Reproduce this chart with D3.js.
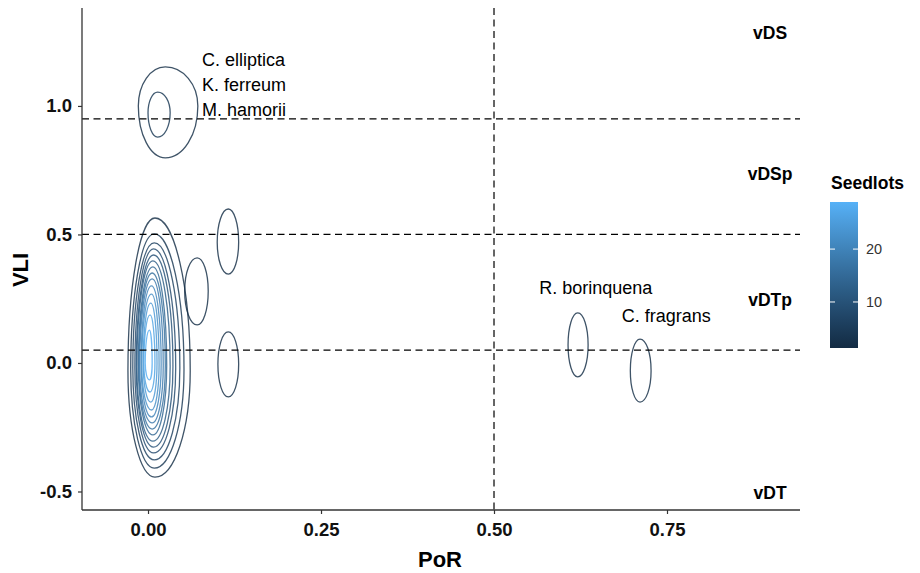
<!DOCTYPE html>
<html><head><meta charset="utf-8">
<script src="https://cdn.jsdelivr.net/npm/d3@7"></script>
<style>body{margin:0;background:#fff}text{font-family:"Liberation Sans",Arial,sans-serif}</style>
</head><body><svg id="c" width="920" height="573"></svg>
<script>
// ---- data ----
const xTicks = [0, 0.25, 0.5, 0.75];
const yTicks = [-0.5, 0, 0.5, 1.0];
const legendTicks = [10, 20];
// contour rings (density level, centre, extents)
const ringLevel  = [2,4,6,8,10,12,14,16,18,20,22,24,26,28, 2,4, 2,2,2, 2,2];
const ringCx     = [0.010,0.009,0.009,0.008,0.008,0.007,0.007,0.006,0.006,0.005,0.005,0.004,0.003,0.002, 0.025,0.014, 0.071,0.116,0.116, 0.621,0.711];
const ringCy     = [-0.03,-0.025,-0.02,-0.02,-0.015,-0.015,-0.01,-0.01,-0.01,-0.005,-0.005,0,0,0, 1.00,0.973, 0.28,0.47,-0.005, 0.07,-0.03];
const ringLeft   = [-0.029,-0.025,-0.022,-0.019,-0.017,-0.016,-0.014,-0.013,-0.012,-0.010,-0.009,-0.007,-0.006,-0.004, -0.014,0.000, 0.053,0.100,0.101, 0.607,0.697];
const ringRight  = [0.061,0.052,0.046,0.040,0.036,0.032,0.027,0.025,0.022,0.019,0.016,0.013,0.010,0.006, 0.072,0.032, 0.087,0.131,0.131, 0.636,0.727];
const ringTop    = [0.564,0.502,0.467,0.444,0.420,0.397,0.374,0.350,0.327,0.300,0.268,0.233,0.187,0.128, 1.152,1.054, 0.409,0.599,0.121, 0.195,0.093];
const ringBottom = [-0.444,-0.409,-0.377,-0.350,-0.327,-0.304,-0.280,-0.257,-0.233,-0.210,-0.183,-0.152,-0.113,-0.066, 0.798,0.879, 0.148,0.346,-0.132, -0.054,-0.152];
const hLines = [0.95, 0.5, 0.05];
const vLines = [0.5];
const zoneLabels = ["vDS","vDSp","vDTp","vDT"];
const zoneY = [1.284, 0.735, 0.245, -0.506];
const zoneX = 0.899;
const speciesLabels = ["C. elliptica","K. ferreum","M. hamorii","R. borinquena","C. fragrans"];
const speciesX = [0.078,0.078,0.078,0.647,0.749];
const speciesY = [1.179,1.082,0.984,0.292,0.183];
const speciesAnchor = ["start","start","start","middle","middle"];
const levelDomain = [1.3, 28.9];

// ---- layout ----
const svg = d3.select("#c");
const L = 82, R = 800, T = 8, B = 510;
const x = d3.scaleLinear().domain([-0.0954, 0.9422]).range([L, R]);
const y = d3.scaleLinear().domain([-0.572, 1.381]).range([B, T]);
const col = d3.scaleLinear().domain(levelDomain).range(["#132B43","#56B1F7"]).interpolate(d3.interpolateLab);
const hy = s => String(s).replace("\u2212","-");

svg.append("rect").attr("width",920).attr("height",573).attr("fill","#fff");

// contours
const rings = ringLevel.map((lv,i)=>({lv, cx:ringCx[i], cy:ringCy[i], l:ringLeft[i], r:ringRight[i], t:ringTop[i], b:ringBottom[i]}));
function ringPath(d){
  const tx=x(d.cx), ty=y(d.t), rx=x(d.r), ry=y(d.cy), by=y(d.b), lx=x(d.l);
  return `M${tx},${ty}A${rx-tx},${ry-ty} 0 0 1 ${rx},${ry}`+
         `A${rx-tx},${by-ry} 0 0 1 ${tx},${by}`+
         `A${tx-lx},${by-ry} 0 0 1 ${lx},${ry}`+
         `A${tx-lx},${ry-ty} 0 0 1 ${tx},${ty}Z`;
}
svg.append("g").selectAll("path").data(rings).join("path")
  .attr("d", ringPath).attr("fill","none")
  .attr("stroke", d=>col(d.lv)).attr("stroke-width",1.3).attr("stroke-opacity",0.82);

// reference lines
svg.append("g").selectAll("line").data(hLines).join("line")
  .attr("x1",L).attr("x2",R).attr("y1",d=>y(d)).attr("y2",d=>y(d))
  .attr("stroke","#000").attr("stroke-width",1.2).attr("stroke-dasharray","7,4.5");
svg.append("g").selectAll("line").data(vLines).join("line")
  .attr("y1",T).attr("y2",B).attr("x1",d=>x(d)).attr("x2",d=>x(d))
  .attr("stroke","#000").attr("stroke-width",1.2).attr("stroke-dasharray","7,4.5");

// axes
const ax = svg.append("g").attr("transform",`translate(0,${B})`)
  .call(d3.axisBottom(x).tickValues(xTicks).tickFormat(d=>hy(d3.format(".2f")(d))).tickSize(4).tickPadding(9));
const ay = svg.append("g").attr("transform",`translate(${L},0)`)
  .call(d3.axisLeft(y).tickValues(yTicks).tickFormat(d=>hy(d3.format(".1f")(d))).tickSize(4).tickPadding(6));
[ax, ay].forEach(g=>{
  g.select(".domain").attr("stroke","#333").attr("stroke-width",1.3);
  g.selectAll(".tick line").attr("stroke","#333").attr("stroke-width",1.2);
  g.selectAll(".tick text").attr("fill","#111").attr("font-weight","bold")
   .attr("font-size","18.5px").attr("font-family","Liberation Sans, Arial, sans-serif");
});
ax.select(".domain").attr("d",`M${L},0H${R}`);
ay.select(".domain").attr("d",`M0,${T}V${B}`);

svg.append("text").attr("x",(L+R)/2 - 1).attr("y",567).attr("text-anchor","middle")
  .attr("font-weight","bold").attr("font-size","22px").attr("fill","#000").text("PoR");
svg.append("text").attr("transform","translate(28,270) rotate(-90)").attr("text-anchor","middle")
  .attr("font-weight","bold").attr("font-size","22px").attr("fill","#000").text("VLI");

// zone labels
svg.append("g").selectAll("text").data(zoneLabels).join("text")
  .attr("x",x(zoneX)).attr("y",(d,i)=>y(zoneY[i])).attr("dy","0.35em")
  .attr("text-anchor","middle").attr("font-weight","bold").attr("font-size","17.5px")
  .attr("fill","#000").text(d=>d);

// species labels
svg.append("g").selectAll("text").data(speciesLabels).join("text")
  .attr("x",(d,i)=>x(speciesX[i])).attr("y",(d,i)=>y(speciesY[i])).attr("dy","0.35em")
  .attr("text-anchor",(d,i)=>speciesAnchor[i]).attr("font-size","18px")
  .attr("fill","#000").text(d=>d);

// legend
const lg = svg.append("g");
lg.append("text").attr("x",831).attr("y",189).attr("font-weight","bold").attr("font-size","17.5px")
  .attr("fill","#000").text("Seedlots");
const ly = d3.scaleLinear().domain(levelDomain).range([348,202]);
const grad = svg.append("defs").append("linearGradient").attr("id","g")
  .attr("x1",0).attr("y1",1).attr("x2",0).attr("y2",0);
d3.range(0,1.0001,0.1).forEach(t=>{
  grad.append("stop").attr("offset",t).attr("stop-color",col(levelDomain[0]+t*(levelDomain[1]-levelDomain[0])));
});
lg.append("rect").attr("x",830).attr("y",ly(levelDomain[1])).attr("width",28)
  .attr("height",ly(levelDomain[0])-ly(levelDomain[1])).attr("fill","url(#g)");
legendTicks.forEach(v=>{
  lg.append("line").attr("x1",830).attr("x2",835).attr("y1",ly(v)).attr("y2",ly(v)).attr("stroke","#fff").attr("stroke-width",1);
  lg.append("line").attr("x1",853).attr("x2",858).attr("y1",ly(v)).attr("y2",ly(v)).attr("stroke","#fff").attr("stroke-width",1);
  lg.append("text").attr("x",866).attr("y",ly(v)).attr("dy","0.35em").attr("font-size","14.5px")
    .attr("fill","#333").text(v);
});
</script></body></html>
